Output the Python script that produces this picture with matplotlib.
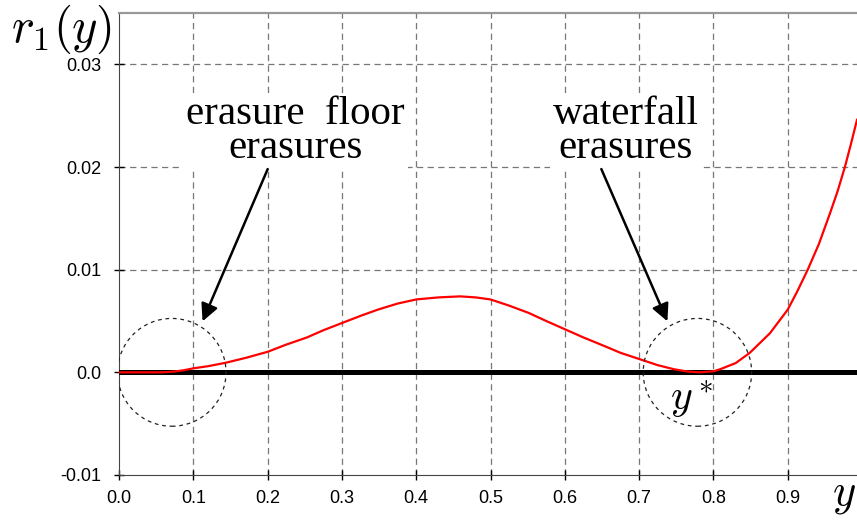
import numpy as np
import matplotlib
matplotlib.use('Agg')
import matplotlib.pyplot as plt
from matplotlib.patches import Ellipse

plt.rcParams['mathtext.fontset'] = 'cm'

# r1(y)
y_pts = [0.0, 0.02, 0.04, 0.05, 0.063, 0.075, 0.087, 0.1, 0.12, 0.144, 0.17,
         0.2, 0.225, 0.253, 0.275, 0.3, 0.325, 0.348, 0.375, 0.4, 0.43,
         0.459, 0.48, 0.5, 0.525, 0.551, 0.575, 0.6, 0.625, 0.652, 0.675,
         0.7, 0.725, 0.747, 0.765, 0.781, 0.8, 0.809, 0.83, 0.849, 0.876,
         0.9, 0.913, 0.927, 0.942, 0.957, 0.967, 0.977, 0.985, 0.9933]
r1_pts = [0.0, 0.0, 0.0, 0.0, 0.00002, 0.00008, 0.0002, 0.00039, 0.0006,
          0.00094, 0.0014, 0.0020, 0.0027, 0.0034, 0.0041, 0.0048, 0.0055,
          0.0061, 0.0067, 0.0071, 0.0073, 0.0074, 0.0073, 0.0071, 0.0065,
          0.0058, 0.0050, 0.0042, 0.0034, 0.0026, 0.0019, 0.0013, 0.0007,
          0.0003, 0.00008, 0.0, 0.0001, 0.0003, 0.0009, 0.0019, 0.0038,
          0.0061, 0.0079, 0.0100, 0.0125, 0.0155, 0.0176, 0.0200, 0.0222,
          0.0246]

xticks = [0.0, 0.1, 0.2, 0.3, 0.4, 0.5, 0.6, 0.7, 0.8, 0.9]
xtick_labels = ['0.0', '0.1', '0.2', '0.3', '0.4', '0.5', '0.6', '0.7', '0.8', '0.9']
yticks = [-0.01, 0.0, 0.01, 0.02, 0.03]
ytick_labels = ['-0.01', '0.0', '0.01', '0.02', '0.03']

# dashed circles around the two zeros (center x, diameter in x, diameter in r1)
circle_x = [0.071, 0.7785]
circle_w = 0.146
circle_h = 0.0105

fig = plt.figure(figsize=(8.57, 5.21), dpi=100)
ax = fig.add_axes([0.1389, 0.0883, 0.8611, 0.8867])
ax.set_xlim(0, 0.9933)
ax.set_ylim(-0.01, 0.035)

for gx in xticks[1:]:
    ax.axvline(gx, color='#777777', lw=0.9, ls=(0, (5, 3.5)), zorder=1)
for gy in yticks[2:]:
    ax.axhline(gy, color='#777777', lw=0.9, ls=(0, (5, 3.5)), zorder=1)

ax.axhline(0.0, color='black', lw=3.6, zorder=3)
ax.plot(y_pts, r1_pts, color='red', lw=1.6, zorder=4)

for cx in circle_x:
    ax.add_patch(Ellipse((cx, 0.0), circle_w, circle_h, fill=False,
                         ec='#222222', lw=0.9, ls=(0, (3, 3)), zorder=5))

ax.set_xticks(xticks)
ax.set_xticklabels(xtick_labels)
ax.set_yticks(yticks)
ax.set_yticklabels(ytick_labels)
ax.tick_params(direction='inout', length=7, width=1, colors='black',
               labelsize=13)
ax.tick_params(axis='y', pad=9)
ax.tick_params(axis='x', pad=7)
for lab in ax.get_xticklabels() + ax.get_yticklabels():
    lab.set_family('Liberation Sans')

ax.spines['right'].set_visible(False)
ax.spines['top'].set_color('#999999')
ax.spines['top'].set_linewidth(1.6)
ax.spines['left'].set_color('#444444')
ax.spines['bottom'].set_color('#444444')

# va='baseline' on two lines pins the lower line's baseline
serif = dict(family='Liberation Serif', fontsize=29.5, ha='center',
             va='baseline', multialignment='center', linespacing=0.9,
             zorder=6, bbox=dict(fc='white', ec='none', pad=2))
ax.text(0.2375, 0.0209, 'erasure  floor\nerasures', **serif)
ax.text(0.6824, 0.0209, 'waterfall\nerasures', **serif)

arrow = dict(arrowstyle='-|>', color='black', lw=1.8, mutation_scale=26,
             shrinkA=0, shrinkB=0)
ax.annotate('', xy=(0.1124, 0.00497), xytext=(0.2001, 0.0198),
            arrowprops=arrow, zorder=7)
ax.annotate('', xy=(0.7381, 0.00497), xytext=(0.6492, 0.0198),
            arrowprops=arrow, zorder=7)

ax.text(0.77, -0.0027, '$y^*$', fontsize=30, ha='center', va='center',
        zorder=6)
fig.text(0.072, 0.944, '$r_1(y)$', fontsize=35, ha='center', va='center')
fig.text(0.985, 0.05, '$y$', fontsize=32, ha='center', va='center')

fig.savefig('out.png', dpi=100)
